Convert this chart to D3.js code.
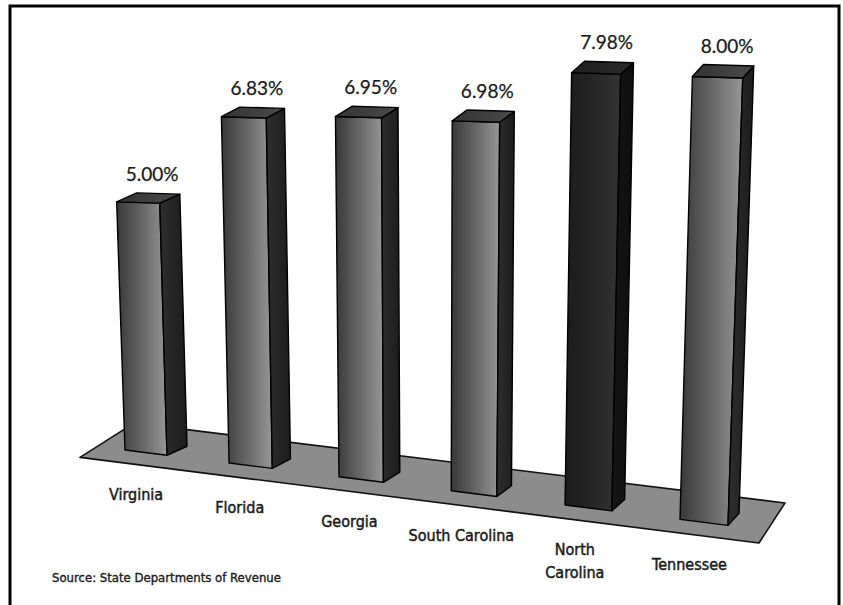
<!DOCTYPE html>
<html>
<head>
<meta charset="utf-8">
<script src="https://cdn.jsdelivr.net/npm/d3@7"></script>
<style>
  body { margin: 0; background: #fff; }
  svg { display: block; }
</style>
</head>
<body>
<div class="chart"></div>
<script>
var states = ["Virginia", "Florida", "Georgia", "South Carolina", "North Carolina", "Tennessee"];
var stateLines = [["Virginia"], ["Florida"], ["Georgia"], ["South Carolina"], ["North", "Carolina"], ["Tennessee"]];
var rates = [5.00, 6.83, 6.95, 6.98, 7.98, 8.00];
var rateLabels = ["5.00%", "6.83%", "6.95%", "6.98%", "7.98%", "8.00%"];
var highlighted = "North Carolina";
var sourceNote = "Source: State Departments of Revenue";

var width = 843, height = 605;
var n = states.length;

var svg = d3.select(".chart").append("svg")
    .attr("width", width)
    .attr("height", height);

// border, bottom edge runs off the page like the original
svg.append("rect")
    .attr("x", 10).attr("y", 6)
    .attr("width", 829).attr("height", 640)
    .attr("fill", "none").attr("stroke", "#000").attr("stroke-width", 3);

// fake perspective: bars walk right along a tilted floor line
var x = d3.scalePow().exponent(1.04).domain([0, n - 1]).range([125, 680]);
var barW = d3.scaleLinear().domain([0, n - 1]).range([42, 48]);
var sideX = d3.scaleLinear().domain([0, n - 1]).range([20, 11]);
var sideY = d3.scaleLinear().domain([0, n - 1]).range([9, 12]);
var base = d3.scaleLinear().domain([125, 687]).range([450, 520.25]);
var grow = d3.scaleLinear().domain([125, 687]).range([1, 1.117]);
var y = d3.scaleLinear().domain([0, 8]).range([0, 397]);
function lean(px, h) { return (px - 428) * h * 0.000111; }

var defs = svg.append("defs");
function grad(id, stops) {
  var g = defs.append("linearGradient").attr("id", id)
      .attr("x1", "0%").attr("x2", "100%").attr("y1", "0%").attr("y2", "0%");
  stops.forEach(function(s, i) {
    g.append("stop").attr("offset", (i / (stops.length - 1) * 100) + "%").attr("stop-color", s);
  });
}
grad("front", ["#383838", "#666", "#979797"]);
grad("side", ["#2e2e2e", "#1c1c1c"]);
grad("top", ["#333", "#4a4a4a"]);
grad("frontHi", ["#1b1b1b", "#262626", "#333"]);
grad("sideHi", ["#151515", "#0e0e0e"]);
grad("topHi", ["#1e1e1e", "#2c2c2c"]);

// floor
var floorPts = [
  [80, base(80) + 13],
  [134, base(134) - 28],
  [785, base(785) - 29.5],
  [759, base(759) + 13.75]
];
svg.append("polygon")
    .attr("points", floorPts.map(function(p) { return p.join(","); }).join(" "))
    .attr("fill", "#8c8c8c")
    .attr("stroke", "#111").attr("stroke-width", 1.6).attr("stroke-linejoin", "round");

var bars = states.map(function(s, i) {
  var bx = x(i), w = barW(i), sx = sideX(i), sy = sideY(i);
  var h = y(rates[i]) * grow(bx);
  var y0 = base(bx), y1 = base(bx + w);
  var fl = [bx, y0], fr = [bx + w, y1];
  var tfl = [bx + lean(bx, h), y0 - h];
  var tfr = [bx + w + lean(bx + w, h), y0 - h + 0.03 * w];
  var br = [bx + w + sx, y1 - sy];
  var tbr = [tfr[0] + sx, tfr[1] - sy];
  var tbl = [tfl[0] + sx, tfl[1] - sy];
  return {state: s, hi: s === highlighted, label: rateLabels[i], lines: stateLines[i],
          front: [fl, fr, tfr, tfl], side: [fr, br, tbr, tfr], top: [tfl, tfr, tbr, tbl],
          cx: bx + (w + sx) / 2, tbl: tbl, tbr: tbr, tfl: tfl};
});

function pts(a) { return a.map(function(p) { return p.join(","); }).join(" "); }

var g = svg.selectAll(".bar").data(bars).enter().append("g").attr("class", "bar");
g.append("polygon").attr("points", function(d) { return pts(d.front); })
    .attr("fill", function(d) { return d.hi ? "url(#frontHi)" : "url(#front)"; });
g.append("polygon").attr("points", function(d) { return pts(d.side); })
    .attr("fill", function(d) { return d.hi ? "url(#sideHi)" : "url(#side)"; });
g.append("polygon").attr("points", function(d) { return pts(d.top); })
    .attr("fill", function(d) { return d.hi ? "url(#topHi)" : "url(#top)"; });
g.selectAll("polygon")
    .attr("stroke", "#000").attr("stroke-width", 1.4).attr("stroke-linejoin", "round");

// value labels
svg.selectAll(".val").data(bars).enter().append("text")
    .attr("class", "val")
    .attr("x", function(d) { return (d.tfl[0] + d.tbr[0]) / 2 + 4; })
    .attr("y", function(d) { return d.tbl[1] - 12; })
    .attr("text-anchor", "middle")
    .style("font-family", "Lato, 'Open Sans', sans-serif")
    .style("font-size", "19px")
    .style("fill", "#1a1a1a")
    .style("stroke", "#1a1a1a").style("stroke-width", 0.25)
    .text(function(d) { return d.label; });

// category labels, sitting on a line parallel to the floor
var cat = svg.selectAll(".cat").data(bars).enter().append("text")
    .attr("class", "cat")
    .attr("text-anchor", "middle")
    .style("font-family", "'DejaVu Sans Condensed', 'DejaVu Sans', sans-serif")
    .style("font-stretch", "condensed")
    .style("font-size", "16px")
    .style("fill", "#1a1a1a")
    .style("stroke", "#1a1a1a").style("stroke-width", 0.45);
cat.each(function(d) {
  var cx = d.cx - 20;
  var by = base(cx) + 49;
  var t = d3.select(this);
  d.lines.forEach(function(line, k) {
    t.append("tspan").attr("x", cx).attr("y", by + k * 23).text(line);
  });
});

svg.append("text")
    .attr("x", 52).attr("y", 582)
    .style("font-family", "'DejaVu Sans Condensed', 'DejaVu Sans', sans-serif")
    .style("font-stretch", "condensed")
    .style("font-size", "13px")
    .style("fill", "#1a1a1a")
    .style("stroke", "#1a1a1a").style("stroke-width", 0.35)
    .text(sourceNote);
</script>
</body>
</html>
